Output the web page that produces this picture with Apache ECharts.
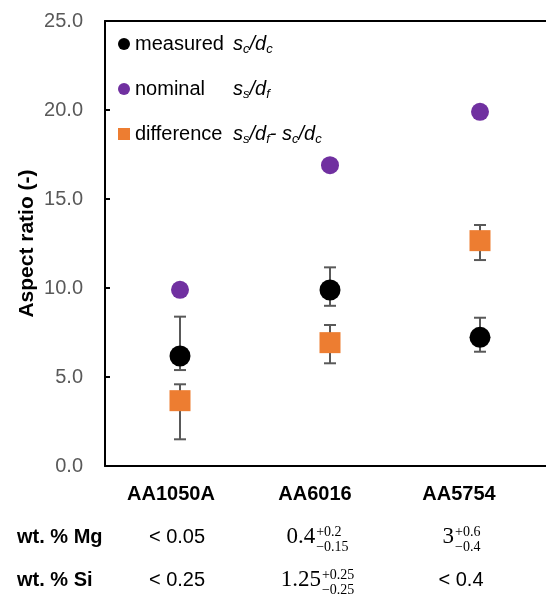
<!DOCTYPE html>
<html>
<head>
<meta charset="utf-8">
<script src="https://cdn.jsdelivr.net/npm/echarts@6/dist/echarts.min.js"></script>
<style>
  html, body { margin: 0; padding: 0; background: #fff; }
  #main { width: 546px; height: 597px; }
</style>
</head>
<body>
<div id="main"></div>
<script>
var categories = ['AA1050A', 'AA6016', 'AA5754'];

var measured = [6.18, 9.89, 7.23];
var measuredLow = [5.39, 9.0, 6.42];
var measuredHigh = [8.39, 11.16, 8.33];

var nominal = [9.9, 16.9, 19.9];

var difference = [3.67, 6.93, 12.66];
var differenceLow = [1.5, 5.77, 11.57];
var differenceHigh = [4.59, 7.92, 13.54];

var yTicks = { min: 0, max: 25, interval: 5 };

// composition table below the axis
var rowLabels = ['wt. % Mg', 'wt. % Si'];
var mgMain = ['< 0.05', '0.4', '3'];
var mgSup = ['', '+0.2', '+0.6'];
var mgSub = ['', '\u22120.15', '\u22120.4'];
var siMain = ['< 0.25', '1.25', '< 0.4'];
var siSup = ['', '+0.25', ''];
var siSub = ['', '\u22120.25', ''];

var SANS = '"Liberation Sans", Arial, sans-serif';
var SERIF = '"Liberation Serif", "Times New Roman", serif';

var chartDom = document.getElementById('main');
var myChart = echarts.init(chartDom);

function errorBars(low, high) {
    return categories.map(function (c, i) { return [i, low[i], high[i]]; });
}

function renderErrorBar(params, api) {
    var x = api.value(0);
    var lo = api.coord([x, api.value(1)]);
    var hi = api.coord([x, api.value(2)]);
    var hw = 6;
    var st = { stroke: '#595959', lineWidth: 2 };
    return {
        type: 'group',
        children: [
            { type: 'line', shape: { x1: hi[0], y1: hi[1], x2: lo[0], y2: lo[1] }, style: st },
            { type: 'line', shape: { x1: hi[0] - hw, y1: hi[1], x2: hi[0] + hw, y2: hi[1] }, style: st },
            { type: 'line', shape: { x1: lo[0] - hw, y1: lo[1], x2: lo[0] + hw, y2: lo[1] }, style: st }
        ]
    };
}

var legendText = {
    measured: '{n|measured}{v|s}{sb|c}{v|/d}{sb|c}',
    nominal: '{n|nominal}{v|s}{sb|s}{v|/d}{sb|f}',
    difference: '{n|difference}{v|s}{sb|s}{v|/d}{sb|f}{v|- s}{sb|c}{v|/d}{sb|c}'
};

// shift of the category names relative to the category centre (px, leftwards)
var labelShift = [9, 15, 21];

var option = {
    animation: false,
    grid: {
        left: 105, right: -9, top: 21, bottom: 131,
        outerBoundsMode: 'none'
    },
    legend: {
        orient: 'vertical',
        left: 118,
        top: 34,
        padding: 0,
        itemWidth: 12,
        itemHeight: 12,
        itemGap: 23.5,
        data: ['measured', 'nominal', 'difference'],
        formatter: function (name) { return legendText[name]; },
        textStyle: {
            color: '#000',
            fontFamily: SANS,
            fontSize: 20,
            rich: {
                n: { width: 98, fontSize: 20, fontFamily: SANS, color: '#000', lineHeight: 24 },
                v: { fontSize: 20, fontStyle: 'italic', fontFamily: SANS, color: '#000', lineHeight: 24 },
                sb: { fontSize: 13, fontStyle: 'italic', fontFamily: SANS, color: '#000', padding: [10, 0, 0, 0] }
            }
        }
    },
    xAxis: [
        {
            type: 'category',
            data: categories,
            axisLine: { show: true, lineStyle: { color: '#000', width: 2 } },
            axisTick: { show: false },
            splitLine: { show: false },
            axisLabel: {
                margin: 18,
                formatter: function (v, i) { return '{c' + i + '|' + v + '}'; },
                rich: {
                    c0: { fontSize: 20, fontWeight: 'bold', fontFamily: SANS, color: '#000', padding: [0, labelShift[0] * 2, 0, 0] },
                    c1: { fontSize: 20, fontWeight: 'bold', fontFamily: SANS, color: '#000', padding: [0, labelShift[1] * 2, 0, 0] },
                    c2: { fontSize: 20, fontWeight: 'bold', fontFamily: SANS, color: '#000', padding: [0, labelShift[2] * 2, 0, 0] }
                }
            }
        },
        {
            // top frame line of the plot area
            type: 'category',
            position: 'top',
            data: categories,
            axisLine: { show: true, onZero: false, lineStyle: { color: '#000', width: 2 } },
            axisTick: { show: false },
            axisLabel: { show: false },
            splitLine: { show: false }
        }
    ],
    yAxis: {
        type: 'value',
        min: yTicks.min,
        max: yTicks.max,
        interval: yTicks.interval,
        name: 'Aspect ratio (-)',
        nameLocation: 'middle',
        nameGap: 67,
        nameMoveOverlap: false,
        nameTextStyle: { fontSize: 21, fontWeight: 'bold', fontFamily: SANS, color: '#000' },
        axisLine: { show: true, lineStyle: { color: '#000', width: 2 } },
        axisTick: { show: true, inside: true, length: 5, lineStyle: { color: '#000', width: 2 } },
        splitLine: { show: false },
        axisLabel: {
            margin: 22,
            fontSize: 20,
            fontFamily: SANS,
            color: '#595959',
            formatter: function (v) { return v.toFixed(1); }
        }
    },
    series: [
        {
            name: 'measuredErr', type: 'custom', z: 1,
            renderItem: renderErrorBar,
            encode: { x: 0, y: [1, 2] },
            data: errorBars(measuredLow, measuredHigh)
        },
        {
            name: 'differenceErr', type: 'custom', z: 1,
            renderItem: renderErrorBar,
            encode: { x: 0, y: [1, 2] },
            data: errorBars(differenceLow, differenceHigh)
        },
        {
            name: 'measured', type: 'scatter', z: 3,
            symbol: 'circle', symbolSize: 21,
            itemStyle: { color: '#000', opacity: 1 },
            data: measured
        },
        {
            name: 'nominal', type: 'scatter', z: 3,
            symbol: 'circle', symbolSize: 18,
            itemStyle: { color: '#7030A0', opacity: 1 },
            data: nominal
        },
        {
            name: 'difference', type: 'scatter', z: 3,
            symbol: 'rect', symbolSize: 21,
            itemStyle: { color: '#ED7D31', opacity: 1 },
            data: difference
        }
    ]
};

myChart.setOption(option);

// ---- table of compositions (drawn as graphic text) ----
var measureCtx = document.createElement('canvas').getContext('2d');
function textWidth(t, font) {
    measureCtx.font = font;
    return measureCtx.measureText(t).width;
}

var colCenters = [177, 317, 461];
var rowY = [537, 580];
var MAIN_FONT = '23px ' + SERIF;
var SCRIPT_FONT = '14px ' + SERIF;

function cell(main, sup, sub, cx, cy) {
    if (!sup && !sub) {
        return [{
            type: 'text', x: cx, y: cy,
            style: { text: main, font: '20px ' + SANS, fill: '#000', align: 'center', verticalAlign: 'middle' }
        }];
    }
    var mw = textWidth(main, MAIN_FONT);
    var sw = Math.max(textWidth(sup, SCRIPT_FONT), textWidth(sub, SCRIPT_FONT));
    var ax = cx + (mw - sw) / 2;
    return [
        { type: 'text', x: ax, y: cy, style: { text: main, font: MAIN_FONT, fill: '#000', align: 'right', verticalAlign: 'middle' } },
        { type: 'text', x: ax + 1, y: cy - 5, style: { text: sup, font: SCRIPT_FONT, fill: '#000', align: 'left', verticalAlign: 'middle' } },
        { type: 'text', x: ax + 1, y: cy + 10, style: { text: sub, font: SCRIPT_FONT, fill: '#000', align: 'left', verticalAlign: 'middle' } }
    ];
}

var tableEls = [];
rowLabels.forEach(function (label, r) {
    tableEls.push({
        type: 'text', x: 17, y: rowY[r],
        style: { text: label, font: 'bold 20px ' + SANS, fill: '#000', align: 'left', verticalAlign: 'middle' }
    });
});
categories.forEach(function (c, i) {
    tableEls = tableEls.concat(cell(mgMain[i], mgSup[i], mgSub[i], colCenters[i], rowY[0]));
    tableEls = tableEls.concat(cell(siMain[i], siSup[i], siSub[i], colCenters[i], rowY[1]));
});

myChart.setOption({ graphic: { elements: tableEls } });
</script>
</body>
</html>
